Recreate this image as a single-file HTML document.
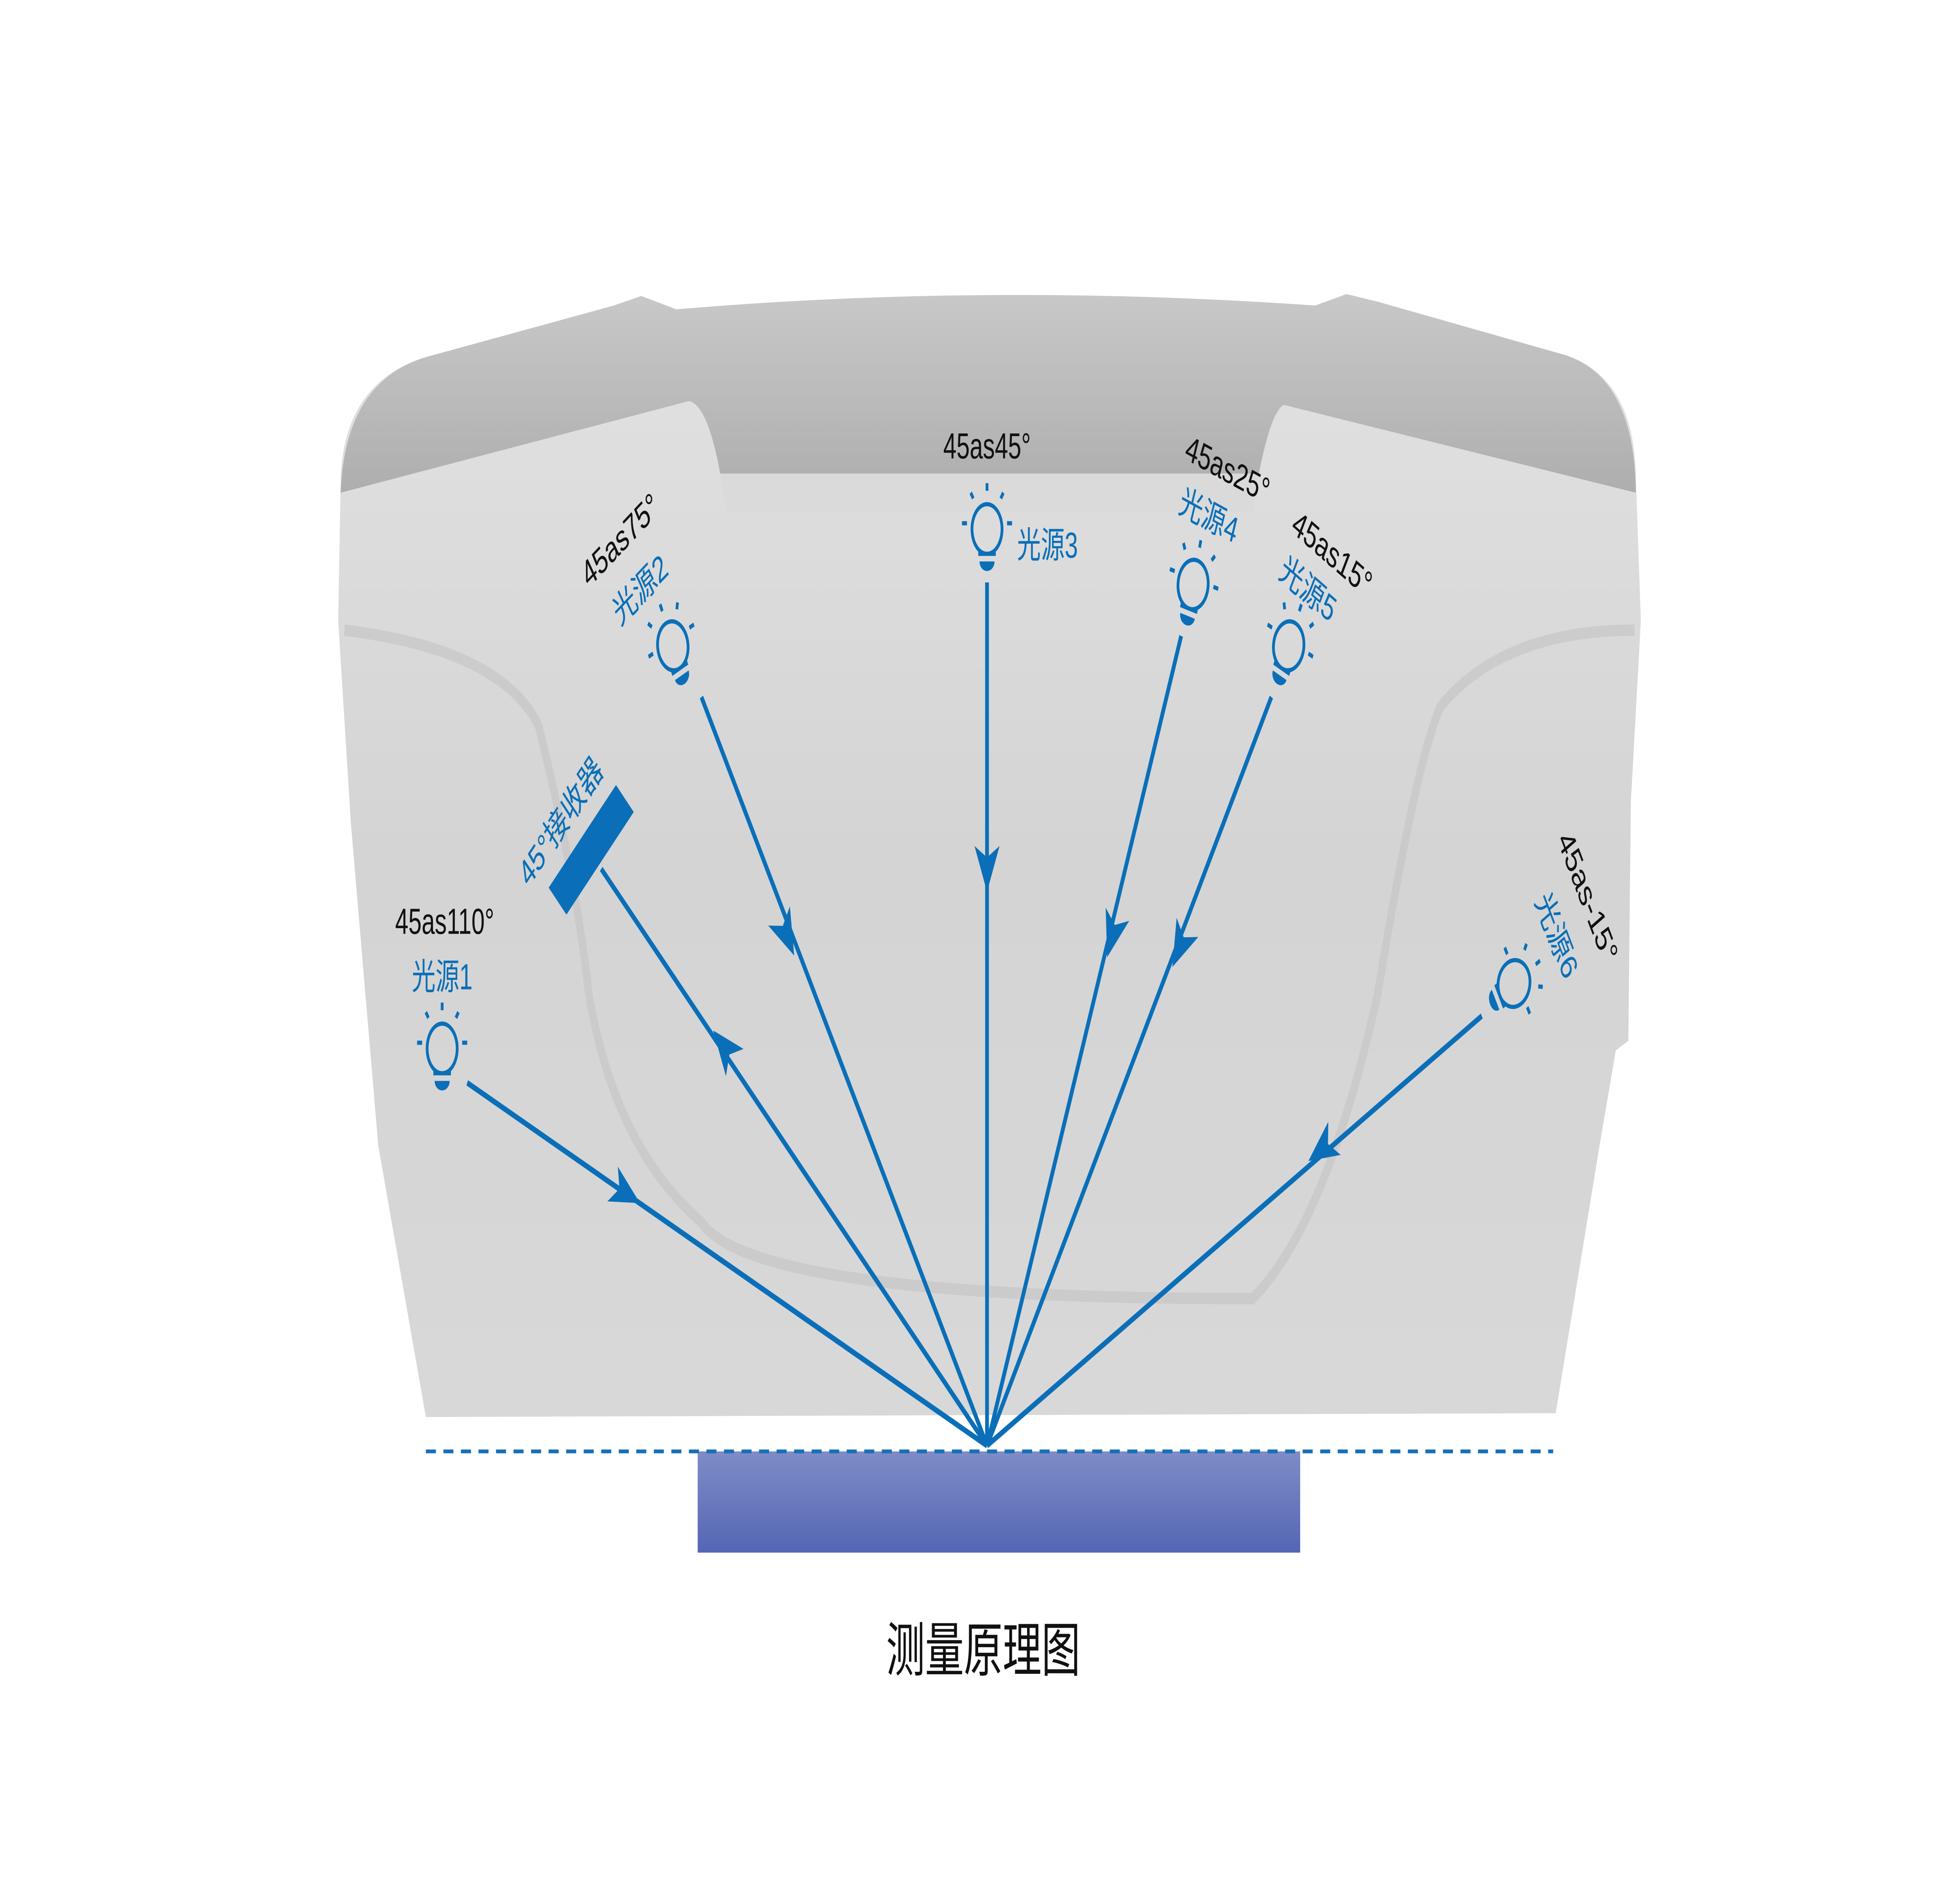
<!DOCTYPE html>
<html><head><meta charset="utf-8"><style>
html,body{margin:0;padding:0;background:#fff;width:100%;height:100%;overflow:hidden}
svg{display:block;width:100vw;height:100vh}
text{font-family:"Liberation Sans","Noto Sans CJK SC",sans-serif}
</style></head><body>
<svg viewBox="0 0 1560 997" preserveAspectRatio="none" xmlns="http://www.w3.org/2000/svg">
<defs>
<linearGradient id="body" x1="0" y1="0" x2="0" y2="1">
<stop offset="0" stop-color="#e2e2e2"/><stop offset="0.5" stop-color="#d4d4d4"/><stop offset="1" stop-color="#d8d8d8"/>
</linearGradient>
<linearGradient id="top" x1="0" y1="0" x2="0" y2="1">
<stop offset="0" stop-color="#c8c8c8"/><stop offset="1" stop-color="#aeaeae"/>
</linearGradient>
<linearGradient id="blk" x1="0" y1="0" x2="0" y2="1">
<stop offset="0" stop-color="#7e8cc6"/><stop offset="1" stop-color="#5466b4"/>
</linearGradient>
<g id="bulb" fill="none" stroke="#0a6fb8" stroke-width="2.2">
<ellipse cx="0" cy="-2" rx="12" ry="13"/>
<line x1="0" y1="-22" x2="0" y2="-26"/><line x1="-11" y1="-18" x2="-13" y2="-21"/><line x1="11" y1="-18" x2="13" y2="-21"/>
<line x1="-16" y1="-5" x2="-20" y2="-5"/><line x1="16" y1="-5" x2="20" y2="-5"/>
<path d="M-6 15 H6 A6 5 0 0 1 -6 15 Z" fill="#0a6fb8" stroke="none"/>
<line x1="-7" y1="11" x2="7" y2="11"/>
</g>
<polygon id="arr" points="12,0 -12,-10 -6,0 -12,10" fill="#0a6fb8"/>
</defs>
<rect width="1560" height="997" fill="#fff"/>
<path d="M272 250 Q275 200 340 187 L490 160 L512 155 L540 162 Q790 148 1050 160 L1075 154 L1100 158 L1250 186 Q1305 198 1306 250 L1310 325 L1302 420 L1300 545 L1290 550 L1277 600 L1242 740 L340 742 L302 600 L280 430 L270 325 Z" fill="url(#body)"/>
<path d="M272 258 Q275 200 340 187 L490 160 L512 155 L540 162 Q790 148 1050 160 L1075 154 L1100 158 L1250 186 Q1305 198 1306 258 L1025 212 Q1015 215 1005 248 L575 248 Q565 212 550 210 Z" fill="url(#top)"/>
<path d="M575 248 L1005 248 L1000 268 L580 268 Z" fill="#d8d8d8" opacity="0.6"/>
<path d="M275 330 Q400 340 430 380 Q460 460 470 520 Q490 600 560 640 Q600 680 1000 680 Q1060 640 1100 520 Q1130 400 1150 370 Q1200 330 1305 330" fill="none" stroke="#c6c6c6" stroke-width="6" opacity="0.7"/>
<rect x="557" y="760" width="481" height="53" fill="url(#blk)"/>
<line x1="340" y1="760" x2="1240" y2="760" stroke="#1a6fb5" stroke-width="2" stroke-dasharray="8,6"/>
<g stroke="#0a6fb8" stroke-width="3">
<line x1="373" y1="567" x2="788" y2="757"/>
<line x1="480" y1="455" x2="788" y2="757"/>
<line x1="560" y1="365" x2="788" y2="757"/>
<line x1="788" y1="305" x2="788" y2="757"/>
<line x1="943" y1="333" x2="788" y2="757"/>
<line x1="1015" y1="365" x2="788" y2="757"/>
<line x1="1183" y1="532" x2="788" y2="757"/>
</g>
<use href="#arr" transform="translate(500,625) rotate(24.6)"/>
<use href="#arr" transform="translate(578,548) rotate(224.4)"/>
<use href="#arr" transform="translate(628,490) rotate(59.8)"/>
<use href="#arr" transform="translate(788,455) rotate(90)"/>
<use href="#arr" transform="translate(888,490) rotate(110.1)"/>
<use href="#arr" transform="translate(942,496) rotate(120.1)"/>
<use href="#arr" transform="translate(1055,602) rotate(150.3)"/>
<rect x="-38" y="-10" width="76" height="20" fill="#0a6fb8" transform="translate(472,445) rotate(-45)"/>
<use href="#bulb" transform="translate(353,551)"/>
<use href="#bulb" transform="translate(538,340) rotate(-25)"/>
<use href="#bulb" transform="translate(788,279)"/>
<use href="#bulb" transform="translate(952,308) rotate(15)"/>
<use href="#bulb" transform="translate(1028,340) rotate(25)"/>
<use href="#bulb" transform="translate(1207,516) rotate(60)"/>
<g font-size="19">
<text x="788" y="240" text-anchor="middle" fill="#111">45as45°</text>
<text x="812" y="292" fill="#0a6fb8">光源3</text>
<text x="355" y="489" text-anchor="middle" fill="#111">45as110°</text>
<text x="353" y="518" text-anchor="middle" fill="#0a6fb8">光源1</text>
<text transform="translate(470,308) rotate(-35)" fill="#111">45as75°</text>
<text transform="translate(495,328) rotate(-35)" fill="#0a6fb8">光源2</text>
<text transform="translate(945,240) rotate(20)" fill="#111">45as25°</text>
<text transform="translate(940,268) rotate(20)" fill="#0a6fb8">光源4</text>
<text transform="translate(1030,278) rotate(30)" fill="#111">45as15°</text>
<text transform="translate(1020,302) rotate(30)" fill="#0a6fb8">光源5</text>
<text transform="translate(1243,440) rotate(60)" fill="#111">45as-15°</text>
<text transform="translate(1225,472) rotate(60)" fill="#0a6fb8">光源6</text>
<text transform="translate(422,465) rotate(-45)" fill="#0a6fb8">45°接收器</text>
</g>
<text x="785" y="875" text-anchor="middle" font-size="31" fill="#111">测量原理图</text>
</svg>
</body></html>
